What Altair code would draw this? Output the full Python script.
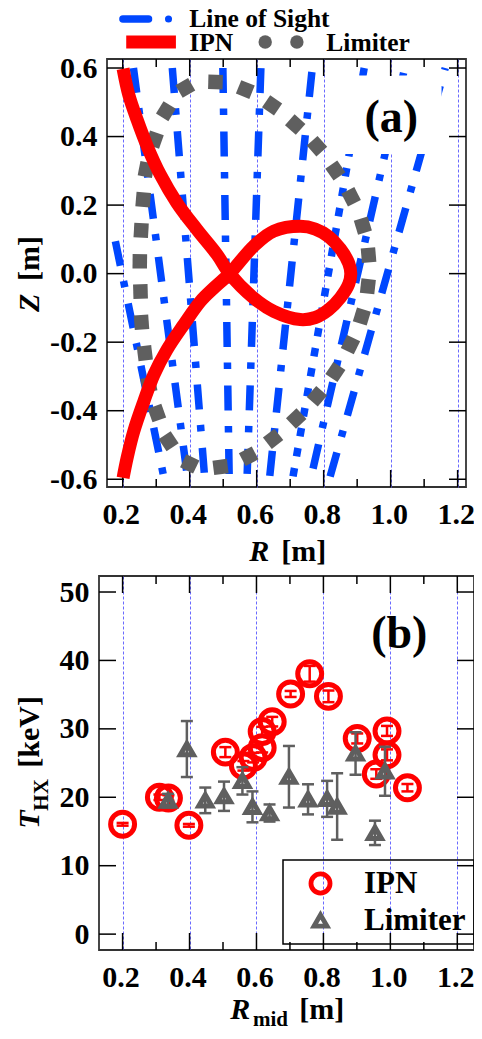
import altair as alt
import pandas as pd
import math

SERIF = "Liberation Serif"
BLUE = "#0047ff"
RED = "#ff0000"
GRAY = "#5f5f5f"
GRID = "#6a6aff"
TRIANGLE = "M0,-0.59 L0.682,0.59 L-0.682,0.59 Z"

tick_r = [0.2, 0.3, 0.4, 0.5, 0.6, 0.7, 0.8, 0.9, 1.0, 1.1, 1.2]
major_r = [0.2, 0.4, 0.6, 0.8, 1.0, 1.2]
minor_r = [0.3, 0.5, 0.7, 0.9, 1.1]
tick_z = [-0.6, -0.4, -0.2, 0.0, 0.2, 0.4, 0.6]
tick_t = [0, 10, 20, 30, 40, 50]

# lines of sight
los_r_a = [0.178, 0.232, 0.348, 0.499, 0.6125, 0.766, 0.921, 1.042, 1.163]
los_z_a = [0.0945, 0.6, 0.6, 0.6, 0.6, 0.6, 0.6, 0.6, 0.6]
los_r_b = [0.324, 0.394, 0.445, 0.518, 0.571, 0.638, 0.707, 0.761, 0.817]
los_z_b = [-0.6, -0.6, -0.6, -0.6, -0.6, -0.6, -0.6, -0.6, -0.6]
los_phase = [0, 0, 0, 0, 0, 59.5, 0, 58.5, 45]
los_dotted = [False, False, False, False, False, False, True, False, False]

lim_r = [.387, .329, .295, .270, .261, .255, .251, .253, .256, .266, .278, .302, .337, .400, .492, .576,
         .649, .718, .780, .835, .880, .914, .932, .934, .917, .882, .835, .780, .715, .646, .566, .477]
lim_z = [.542, .474, .391, .304, .216, .126, .036, -.052, -.142, -.232, -.324, -.407, -.489, -.555, -.564, -.533,
         -.482, -.423, -.358, -.287, -.207, -.125, -.037, .054, .140, .224, .301, .372, .435, .491, .537, .559]

ipn_r = [.201, .218, .243, .273, .312, .362, .422, .482, .519, .591, .651, .730, .775, .815, .850, .875, .881,
         .875, .850, .815, .775, .730, .651, .591, .519, .472, .432, .382, .332, .293, .263, .233, .213, .201]
ipn_z = [.598, .522, .449, .372, .289, .206, .128, .055, 0, -.071, -.110, -.134, -.128, -.105, -.070, -.030, 0,
         .030, .072, .108, .130, .138, .124, .080, 0, -.042, -.081, -.149, -.222, -.295, -.373, -.460, -.538, -.596]

# mask behind the (a) label
mask_r = [0.83]
mask_r2 = [1.152]
mask_z = [0.578]
mask_z2 = [0.349]

# panel b
b_ipn_r = [0.2, 0.31, 0.337, 0.398, 0.507, 0.561, 0.59, 0.617, 0.617, 0.647, 0.702, 0.759, 0.815, 0.901, 0.99, 0.99, 0.958, 1.051]
b_ipn_t = [16.05, 20.0, 19.9, 15.9, 26.6, 24.6, 25.8, 27.25, 29.6, 31.05, 35.1, 38.05, 34.75, 28.6, 29.7, 26.2, 23.4, 21.4]
b_ipn_e = [0.2, 0.4, 0.4, 0.2, 0.73, 0.7, 0.7, 0.7, 0.7, 0.7, 0.44, 1.15, 0.85, 0.73, 0.73, 0.8, 0.7, 0.54]
b_lim_r = [.392, .336, .447, .503, .558, .588, .639, .697, .754, .811, .841, .896, .954, .984]
b_lim_t = [27.05, 19.5, 19.55, 20.15, 22.4, 18.6, 17.7, 23.0, 19.7, 19.77, 18.65, 26.4, 14.8, 23.8]
b_lim_e = [4.09, 1.0, 1.87, 2.14, 2.0, 2.26, 1.25, 4.5, 2.2, 2.63, 4.86, 3.1, 1.78, 3.58]

W_A, H_A = 359, 428
W_B, H_B = 375, 374


def text(s, x, y, size=30, style="normal", angle=0, align="left", color="black"):
    opts = dict(font=SERIF, fontSize=size, fontWeight="bold", fontStyle=style,
                align=align, baseline="alphabetic", color=color)
    if angle:
        opts["angle"] = angle
    return alt.Chart(pd.DataFrame({"t": [s]})).mark_text(**opts).encode(x=alt.value(x), y=alt.value(y), text="t:N")


def panel_x(dx):
    return alt.X("r:Q", scale=alt.Scale(domain=dx, nice=False, zero=False), title=None,
                 axis=alt.Axis(values=tick_r, grid=True, gridColor=GRID, gridDash=[3, 2], gridWidth=1, gridOpacity=1,
                               ticks=False, domain=False, labelOverlap=False, labelFont=SERIF, labelFontSize=30,
                               labelFontWeight="bold", labelColor="black", labelPadding=12, labelFlush=False,
                               labelOffset=-2,
                               labelExpr="round(datum.value*10)%2==0 ? format(datum.value,'.1f') : ''"))


def panel_y(dy, vals, **kw):
    return alt.Y("z:Q", scale=alt.Scale(domain=dy, nice=False, zero=False), title=None,
                 axis=alt.Axis(values=vals, grid=False, ticks=False, domain=False, labelFont=SERIF, labelFontSize=30,
                               labelFontWeight="bold", labelColor="black", labelPadding=10, labelOverlap=False,
                               labelFlush=False, **kw))


def tick_layers(ticks_y, w, h):
    out = []
    ln = dict(color="black", strokeWidth=1.5)
    for vals, size in ((major_r, 17), (minor_r, 8)):
        d = alt.Data(values=[{"r": v} for v in vals])
        out.append(alt.Chart(d).mark_rule(**ln).encode(x="r:Q", y=alt.value(0), y2=alt.value(size)))
        out.append(alt.Chart(d).mark_rule(**ln).encode(x="r:Q", y=alt.value(h), y2=alt.value(h - size)))
    d = alt.Data(values=[{"z": v} for v in ticks_y])
    out.append(alt.Chart(d).mark_rule(**ln).encode(y="z:Q", x=alt.value(0), x2=alt.value(17)))
    out.append(alt.Chart(d).mark_rule(**ln).encode(y="z:Q", x=alt.value(w), x2=alt.value(w - 17)))
    return out


# ---------- panel (a)
xa = panel_x([0.153, 1.225])
ya = panel_y([-0.6226, 0.6263], tick_z, labelExpr="(datum.value<0?'-':'')+format(abs(datum.value),'.1f')")

base_a = alt.Chart(pd.DataFrame({"r": tick_r, "z": [0.0] * len(tick_r)})).mark_point(opacity=0).encode(x=xa, y=ya)

los_layers = []
for i in range(len(los_r_a)):
    df = pd.DataFrame({"r": [los_r_a[i], los_r_b[i]], "z": [los_z_a[i], los_z_b[i]], "i": [0, 1]})
    dash = [8.5, 11.8] if los_dotted[i] else [25, 15.5, 6.5, 16.5]
    los_layers.append(alt.Chart(df).mark_line(color=BLUE, strokeWidth=7.5, strokeDash=dash,
                                              strokeDashOffset=los_phase[i]).encode(
        x="r:Q", y="z:Q", order="i:Q"))

mask = alt.Chart(pd.DataFrame({"r": mask_r, "r2": mask_r2, "z": mask_z, "z2": mask_z2})).mark_rect(color="white").encode(
    x="r:Q", x2="r2:Q", y="z:Q", y2="z2:Q")

lim_df = pd.DataFrame({"r": lim_r, "z": lim_z})
n = len(lim_r)
lim_df["a"] = [(-math.degrees(math.atan2(lim_z[(k + 1) % n] - lim_z[k - 1], lim_r[(k + 1) % n] - lim_r[k - 1]))) % 360
               for k in range(n)]
limiter = alt.Chart(lim_df).mark_point(shape="square", filled=True, size=210, color=GRAY, opacity=1).encode(
    x="r:Q", y="z:Q", angle=alt.Angle("a:Q", scale=None))

ipn_df = pd.DataFrame({"r": ipn_r, "z": ipn_z, "i": list(range(len(ipn_r)))})
ipn = alt.Chart(ipn_df).mark_line(color=RED, strokeWidth=13, interpolate="catmull-rom").encode(
    x="r:Q", y="z:Q", order="i:Q")

# key above panel (a)
key_los = alt.Chart(pd.DataFrame({"r": [0.2006], "r2": [0.277], "z": [0.743]})).mark_rule(
    color=BLUE, strokeWidth=7.5, strokeCap="round").encode(x="r:Q", x2="r2:Q", y="z:Q")
key_dot = alt.Chart(pd.DataFrame({"r": [0.3367], "z": [0.743]})).mark_circle(color=BLUE, size=50, opacity=1).encode(
    x="r:Q", y="z:Q")
key_ipn = alt.Chart(pd.DataFrame({"r": [0.2104], "r2": [0.3588], "z": [0.676]})).mark_rule(
    color=RED, strokeWidth=13).encode(x="r:Q", x2="r2:Q", y="z:Q")
key_lim = alt.Chart(pd.DataFrame({"r": [0.6254, 0.72], "z": [0.676, 0.676]})).mark_circle(
    color=GRAY, size=180, opacity=1).encode(x="r:Q", y="z:Q")

ox_a, oy_a = 105.7, 61
texts_a = [
    text("Line of Sight", 188 - ox_a, 29 - oy_a, size=25.5),
    text("IPN", 188 - ox_a, 52.5 - oy_a, size=25.5),
    text("Limiter", 325 - ox_a, 52.5 - oy_a, size=25.5),
    text("(a)", 390 - ox_a, 133.5 - oy_a, size=46, align="center"),
    text("R", 248 - ox_a, 563 - oy_a, style="italic"),
    text("[m]", 280 - ox_a, 563 - oy_a),
    text("Z", 38 - ox_a, 314 - oy_a, style="italic", angle=270),
    text("[m]", 38 - ox_a, 283 - oy_a, angle=270),
]

panel_a = alt.layer(base_a, *los_layers, mask, *tick_layers(tick_z, W_A, H_A), limiter, ipn,
                    key_los, key_dot, key_ipn, key_lim, *texts_a).properties(width=W_A, height=H_A)

# ---------- panel (b)
xb = panel_x([0.1295, 1.2499])
yb = panel_y([-2.32, 52.34], tick_t)

rows = []
for s, rr, tt, ee in (("IPN", b_ipn_r, b_ipn_t, b_ipn_e), ("Limiter", b_lim_r, b_lim_t, b_lim_e)):
    for a_, b_, c_ in zip(rr, tt, ee):
        rows.append({"r": a_, "z": b_, "lo": b_ - c_, "hi": b_ + c_, "s": s})
df_b = pd.DataFrame(rows)

color_scale = alt.Scale(domain=["IPN", "Limiter"], range=[RED, GRAY])
leg = dict(orient="none", legendX=184, legendY=284, padding=8, strokeColor="black",
           labelFont=SERIF, labelFontSize=31, labelFontWeight="bold",
           labelColor="black", symbolSize=363, symbolStrokeWidth=4.8, symbolOffset=14,
           labelOffset=28, rowPadding=1, labelLimit=200)
col = alt.Color("s:N", scale=color_scale, title=None, legend=alt.Legend(**leg))
shp = alt.Shape("s:N", scale=alt.Scale(domain=["IPN", "Limiter"], range=["circle", TRIANGLE]), title=None,
                legend=alt.Legend(**leg))


def series_layers(name, size, sw, colour):
    d = df_b[df_b.s == name]
    c = alt.Chart(d)
    return [
        c.mark_rule(strokeWidth=2.5, color=colour).encode(x="r:Q", y="lo:Q", y2="hi:Q"),
        c.mark_tick(orient="horizontal", size=12, thickness=2.5, opacity=1, color=colour).encode(x="r:Q", y="lo:Q"),
        c.mark_tick(orient="horizontal", size=12, thickness=2.5, opacity=1, color=colour).encode(x="r:Q", y="hi:Q"),
        c.mark_point(filled=False, size=size, strokeWidth=sw, opacity=1).encode(x="r:Q", y="z:Q", color=col, shape=shp),
    ]


base_b = alt.Chart(pd.DataFrame({"r": tick_r, "z": [0.0] * len(tick_r)})).mark_point(opacity=0).encode(x=xb, y=yb)

ox_b, oy_b = 97.7, 578.3
texts_b = [
    text("(b)", 398 - ox_b, 650 - oy_b, size=46, align="center"),
    text("R", 229 - ox_b, 1021 - oy_b, style="italic"),
    text("mid", 251.7 - ox_b, 1028 - oy_b, size=21),
    text("[m]", 298 - ox_b, 1021 - oy_b),
    text("T", 38 - ox_b, 831 - oy_b, style="italic", angle=270),
    text("HX", 46.7 - ox_b, 813 - oy_b, size=21, angle=270),
    text("[keV]", 38 - ox_b, 770 - oy_b, angle=270),
]

panel_b = alt.layer(base_b, *tick_layers(tick_t, W_B, H_B), *series_layers("IPN", 573, 5, RED),
                    *series_layers("Limiter", 363, 5, GRAY), *texts_b).properties(width=W_B, height=H_B)

chart = alt.concat(panel_a, panel_b, columns=1, spacing=89, bounds="flush", center=True).resolve_scale(
    color="independent", shape="independent"
).resolve_legend(color="independent", shape="independent").properties(
    padding={"left": 6, "top": -2, "right": -2, "bottom": 0}
).configure_view(stroke="#333333", strokeWidth=1.8).configure_legend(strokeWidth=1.5)

chart.save("out.html", embed_options={"renderer": "svg", "actions": False})
